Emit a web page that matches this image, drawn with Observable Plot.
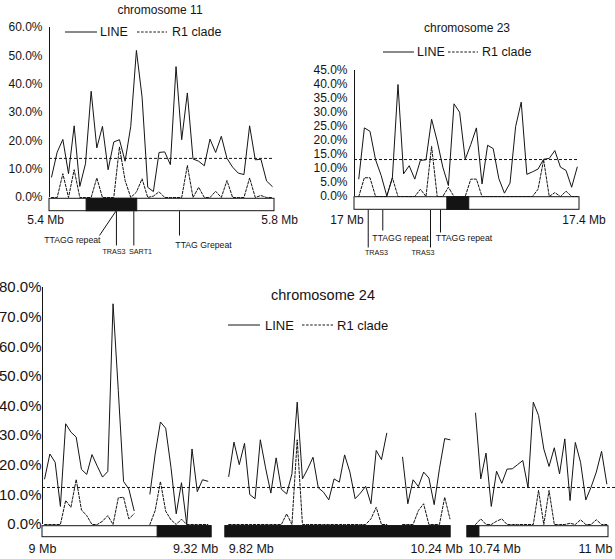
<!DOCTYPE html>
<html>
<head>
<meta charset="utf-8">
<script src="https://cdn.jsdelivr.net/npm/d3@7"></script>
<script src="https://cdn.jsdelivr.net/npm/@observablehq/plot@0.6"></script>
<style>
  body { margin: 0; background: #fff; }
  #root { position: relative; width: 615px; height: 559px; overflow: hidden; background: #fff; }
</style>
</head>
<body>
<div id="root"></div>
<script>
// ---------------- DATA ----------------
const seriesNames = ["LINE", "R1 clade"];

// chromosome 11 (values in %)
const chr11Line = [7.2,16.0,20.5,8.4,25.3,3.9,11.9,37.5,17.5,25.1,9.8,19.6,20.4,12.8,25.1,51.9,35.4,3.6,2.1,15.9,16.1,11.6,46.2,20.4,36.9,13.6,12.8,11.2,20.6,15.9,21.6,13.8,10.7,8.6,8.1,25.3,13.3,13.5,5.8,3.9];
const chr11R1 = [0,0,8.4,0,9.8,0,0,0,6.9,0,0,0,17.8,6.0,0,1.9,6.6,0,0.5,2.0,0,0,0,0,11.3,0,3.6,0,0,2.2,0,6.0,0,0,0,6.9,0,0.7,0,0];
const chr11Win = [5.4036, 5.796];       // first / last window centre, Mb
const chr11Span = [5.4, 5.8];
const chr11Black = [5.466, 5.556];
const chr11Threshold = 13.8;
const chr11Ticks = [0, 10, 20, 30, 40, 50, 60];
const chr11AxisValues = [5.4, 5.8];
const chr11AxisLabels = ["5.4 Mb", "5.8 Mb"];
const chr11Features = ["TTAGG repeat", "TRAS3", "SART1", "TTAG Grepeat"];
const chr11FeatureMb = [5.518, 5.519, 5.5499, 5.6311];

// chromosome 23
const chr23Line = [6.3,24.5,23.3,13.1,7.5,0.2,6.7,40.0,8.1,11.0,6.2,12.9,13.1,27.6,19.8,10.5,3.9,33.1,30.1,13.3,18.6,24.5,4.5,18.3,17.1,6.4,1.2,4.8,25.0,33.7,7.9,8.8,9.8,13.3,13.6,16.4,10.5,9.3,3.3,10.5];
const chr23R1 = [0,6.7,6.7,0,0,0,6.7,0,0,0,0,2.6,0,17.9,0,0,3.3,0,0,0,6.2,6.2,0,0,0,0,0,0,0,0,0,0,2.6,13.1,0,1.4,0,1.9,0,0];
const chr23Win = [17.0076, 17.396];
const chr23Span = [17.0, 17.4];
const chr23Black = [17.165, 17.204];
const chr23Threshold = 13.2;
const chr23Ticks = [0, 5, 10, 15, 20, 25, 30, 35, 40, 45];
const chr23AxisValues = [17.0, 17.4];
const chr23AxisLabels = ["17 Mb", "17.4 Mb"];
const chr23Features = ["TRAS3", "TTAGG repeat", "TRAS3", "TTAGG repeat"];
const chr23FeatureMb = [17.0244, 17.0503, 17.1351, 17.1529];

// chromosome 24 (three windows of the chromosome)
const chr24Seg1Line = [15.4,23.8,21.0,6.1,34.0,31.2,29.5,18.6,16.9,23.6,19.7,16.0,17.9,74.5,45.2,14.5,12.0,4.7,null,null,10.3,23.8,34.6,32.5,19.3,3.6,14.1,0,25.5,11.1,15.1,14.6];
const chr24Seg1R1 = [0,0,0,0,8.1,5.8,15.2,4.9,3.0,0,0,1.1,3.0,0,9.0,9.2,1.9,3.6,null,null,0,4.7,14.5,4.5,1.6,0,1.8,0,0,0,0,0];
const chr24Seg2Line = [16.2,27.8,20.2,27.4,10.1,8.7,28.6,19.1,10.6,22.5,11.9,10.3,17.1,41.3,15.4,18.8,22.7,12.4,10.9,8.3,15.4,14.3,23.5,17.7,8.7,10.6,12.9,7.0,25.0,21.9,30.8,null,null,22.7,7.0,15.1,12.8,17.7,15.7,6.7,18.8,29.0,28.6];
const chr24Seg2R1 = [0,0,0,0,0,0,0,0,0,0,0,3.6,0,28.6,0,0,0,0,0,0,0,0,0,0,0,0,0,1.9,5.8,0,0,null,null,0,0,0,4.7,7.0,0,0,0,9.2,1.9];
const chr24Seg3Line = [37.6,15.4,24.1,6.1,18.0,13.9,18.7,18.8,20.2,21.6,12.4,41.3,36.8,25.5,19.6,25.9,17.1,28.9,8.1,27.7,21.0,8.3,12.6,17.7,24.7,13.7];
const chr24Seg3R1 = [0,1.9,0,0,1.1,1.9,0,0,0,0,0,0,11.5,0,11.5,0,0,0,0.4,0,1.6,0,0,1.6,0,0];
const chr24Win = [[9.004, 9.313], [9.826, 10.239], [10.7548, 10.9969]];
const chr24Spans = [[9.0, 9.32], [9.82, 10.24], [10.74, 11.0]];
const chr24Black = [[9.218, 9.32], [9.82, 10.24], [10.74, 10.762]];
const chr24Threshold = 12.5;
const chr24Ticks = [0, 10, 20, 30, 40, 50, 60, 70, 80];
const chr24AxisValues = [9.0, 9.32, 9.82, 10.24, 10.74, 11.0];
const chr24AxisLabels = ["9 Mb", "9.32 Mb", "9.82 Mb", "10.24 Mb", "10.74 Mb", "11 Mb"];

// ---------------- LAYOUT ----------------
const FONT = '"Liberation Sans", Arial, Helvetica, sans-serif';
const INK = "#141414";
const root = document.getElementById("root");

function chart(cfg) {
  const k = (cfg.height - cfg.marginTop - cfg.marginBottom) / cfg.yMax; // px per %
  const pts = [];
  cfg.segments.forEach((s, si) => {
    const n = s.line.length;
    s.line.forEach((v, i) => pts.push({
      seg: si,
      x: s.win[0] + i * (s.win[1] - s.win[0]) / (n - 1),
      line: v, r1: s.r1[i]
    }));
  });
  const barTop = -cfg.bar[0] / k, barBot = -cfg.bar[1] / k;
  const labelRows = cfg.axisValues.map((v, i) => ({v, text: cfg.axisLabels[i]}));
  const marks = [
    Plot.ruleY([cfg.threshold], {stroke: INK, strokeWidth: 1, strokeDasharray: "3,2"}),
    Plot.ruleX([cfg.axisX], {y1: () => 0, y2: () => cfg.yMax, stroke: INK, strokeWidth: 1}),
    Plot.rect(cfg.segments, {x1: d => d.span[0], x2: d => d.span[1], y1: () => barTop, y2: () => barBot, fill: "white", stroke: INK, strokeWidth: 1}),
    Plot.rect(cfg.segments, {x1: d => d.black[0], x2: d => d.black[1], y1: () => barTop, y2: () => barBot, fill: INK, stroke: INK, strokeWidth: 1}),
    Plot.line(pts, {x: "x", y: "r1", z: "seg", stroke: INK, strokeWidth: 1, strokeDasharray: "2.5,1.6"}),
    Plot.line(pts, {x: "x", y: "line", z: "seg", stroke: INK, strokeWidth: 1}),
    Plot.text(labelRows, {x: "v", y: () => 0, text: "text", textAnchor: "middle", dy: cfg.axisDy, fontSize: cfg.axisFont, fill: INK})
  ];
  if (cfg.features) {
    const rows = cfg.features.names.map((name, i) => ({name, mb: cfg.features.mb[i], ...cfg.features.layout[i]}));
    marks.push(Plot.link(rows, {
      x1: "mb", y1: () => barBot, x2: d => d.endMb ?? d.mb, y2: d => -d.tail / k,
      stroke: INK, strokeWidth: 1
    }));
    for (const a of ["end", "middle"]) {
      const rr = rows.filter(d => d.anchor === a);
      if (rr.length) marks.push(Plot.text(rr, {
        x: "labelMb", y: d => -d.labelPx / k, text: "name", textAnchor: a,
        fontSize: d => d.name.includes("repeat") || d.name.includes("Grepeat") ? 8.7 : 7.2,
        fill: INK
      }));
    }
  }
  const xOpts = {domain: cfg.xDomain, range: cfg.xRange, axis: null};
  if (cfg.xTransform) xOpts.transform = cfg.xTransform;
  const svg = Plot.plot({
    width: cfg.width, height: cfg.height,
    marginLeft: cfg.marginLeft, marginRight: cfg.marginRight,
    marginTop: cfg.marginTop, marginBottom: cfg.marginBottom,
    x: xOpts,
    y: {domain: [0, cfg.yMax], ticks: cfg.ticks, tickFormat: d => d.toFixed(1) + "%", tickSize: 0, tickPadding: cfg.tickPadding, label: null},
    style: {fontFamily: FONT, fontSize: cfg.tickFont + "px", color: INK, background: "transparent", overflow: "visible"},
    marks
  });
  svg.style.position = "absolute";
  svg.style.left = cfg.left + "px";
  svg.style.top = cfg.top + "px";
  svg.style.maxWidth = "none";
  root.appendChild(svg);
}

function htmlText(txt, x, y, size, anchor) {
  const d = document.createElement("div");
  d.textContent = txt;
  d.style.cssText = `position:absolute;left:${x}px;top:${y}px;font-family:${FONT};font-size:${size}px;line-height:1;white-space:nowrap;color:${INK};transform:translate(${anchor === "middle" ? "-50%" : "0"},-50%);`;
  root.appendChild(d);
}
function swatch(x1, x2, y, dash) {
  const ns = "http://www.w3.org/2000/svg";
  const s = document.createElementNS(ns, "svg");
  s.setAttribute("width", x2 - x1); s.setAttribute("height", 4);
  s.style.cssText = `position:absolute;left:${x1}px;top:${y - 2}px;overflow:visible;`;
  const l = document.createElementNS(ns, "line");
  l.setAttribute("x1", 0); l.setAttribute("x2", x2 - x1);
  l.setAttribute("y1", 2); l.setAttribute("y2", 2);
  l.setAttribute("stroke", INK); l.setAttribute("stroke-width", 1);
  if (dash) l.setAttribute("stroke-dasharray", dash);
  s.appendChild(l);
  root.appendChild(s);
}
function legend(y, sx1, sx2, tx1, dx1, dx2, tx2, size) {
  swatch(sx1, sx2, y, null);
  htmlText(seriesNames[0], tx1, y, size, "start");
  swatch(dx1, dx2, y, "2.5,1.6");
  htmlText(seriesNames[1], tx2, y, size, "start");
}

// chromosome 11
chart({
  left: 0, top: 0, width: 300, height: 260,
  marginLeft: 49, marginRight: 26, marginTop: 27, marginBottom: 63,
  xDomain: chr11Span, xRange: [49, 274], axisX: chr11Span[0], yMax: 60, ticks: chr11Ticks,
  tickFont: 12, tickPadding: 7,
  threshold: chr11Threshold, bar: [1.3, 13.7],
  segments: [{line: chr11Line, r1: chr11R1, win: chr11Win, span: chr11Span, black: chr11Black}],
  axisValues: chr11AxisValues.map((v, i) => v + [-0.007, 0.009][i]), axisLabels: chr11AxisLabels,
  axisDy: 23, axisFont: 12,
  features: {
    names: chr11Features, mb: chr11FeatureMb,
    layout: [
      {endMb: 5.4889, tail: 38, labelMb: 5.4907, labelPx: 43, anchor: "end"},
      {tail: 48, labelMb: 5.5147, labelPx: 54, anchor: "middle"},
      {tail: 48, labelMb: 5.5618, labelPx: 54, anchor: "middle"},
      {tail: 38, labelMb: 5.6738, labelPx: 48, anchor: "middle"}
    ]
  }
});
htmlText("chromosome 11", 160, 10, 12, "middle");
legend(31.7, 65, 97, 100, 137, 167, 172, 12.5);

// chromosome 23
chart({
  left: 300, top: 0, width: 315, height: 260,
  marginLeft: 54, marginRight: 36, marginTop: 70, marginBottom: 64,
  xDomain: chr23Span, xRange: [54, 279], axisX: chr23Span[0], yMax: 45, ticks: chr23Ticks,
  tickFont: 12, tickPadding: 7,
  threshold: chr23Threshold, bar: [0.7, 13.3],
  segments: [{line: chr23Line, r1: chr23R1, win: chr23Win, span: chr23Span, black: chr23Black}],
  axisValues: chr23AxisValues.map((v, i) => v + [-0.0133, 0.008][i]), axisLabels: chr23AxisLabels,
  axisDy: 24, axisFont: 12,
  features: {
    names: chr23Features, mb: chr23FeatureMb,
    layout: [
      {tail: 51, labelMb: 17.0391, labelPx: 56, anchor: "middle"},
      {tail: 34, labelMb: 17.0818, labelPx: 41.5, anchor: "middle"},
      {tail: 51, labelMb: 17.1218, labelPx: 56, anchor: "middle"},
      {tail: 36, labelMb: 17.1947, labelPx: 41.5, anchor: "middle"}
    ]
  }
});
htmlText("chromosome 23", 467, 28, 12, "middle");
legend(52, 383, 414, 417, 448, 478, 482, 12.5);

// chromosome 24: broken axis — each window of the chromosome is placed on one shared
// horizontal track by a piecewise transform (gaps between windows are squeezed).
const chr24Track = d3.scaleLinear().domain(chr24AxisValues).range([0, 169, 183, 408, 425, 566]);
chart({
  left: 0, top: 260, width: 615, height: 299,
  marginLeft: 42, marginRight: 0, marginTop: 27, marginBottom: 35,
  xDomain: [0, 573], xRange: [42, 615], xTransform: chr24Track, axisX: chr24AxisValues[0],
  yMax: 80, ticks: chr24Ticks,
  tickFont: 15, tickPadding: 1,
  threshold: chr24Threshold, bar: [1.7, 12.7],
  segments: chr24Win.map((w, i) => ({
    line: [chr24Seg1Line, chr24Seg2Line, chr24Seg3Line][i],
    r1: [chr24Seg1R1, chr24Seg2R1, chr24Seg3R1][i],
    win: w, span: chr24Spans[i], black: chr24Black[i]
  })),
  axisValues: chr24AxisValues.map((v, i) => v + [0, -0.03, 0.048, -0.026, 0.05, -0.024][i]), axisLabels: chr24AxisLabels,
  axisDy: 24, axisFont: 12.5
});
htmlText("chromosome 24", 323, 295, 14.5, "middle");
legend(325, 228, 260, 265, 302, 333, 337, 13);
</script>
</body>
</html>
